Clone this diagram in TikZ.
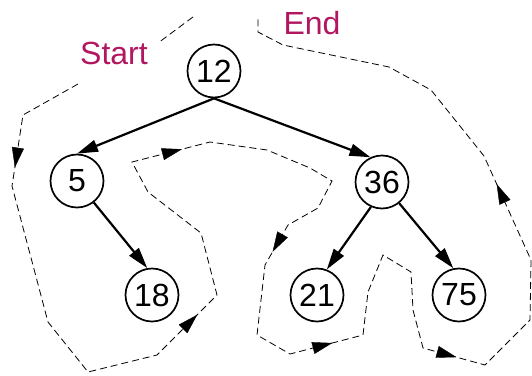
\documentclass[tikz,border=0pt]{standalone}
\usepackage{fontspec}
\setmainfont{Liberation Sans}
\usetikzlibrary{arrows.meta,decorations.markings}
\definecolor{lbl}{RGB}{178,22,96}
\tikzset{
  tnode/.style={circle,draw,line width=1.7pt,minimum size=53pt,inner sep=0pt,font=\fontsize{32}{36}\selectfont},
  tedge/.style={line width=2.2pt,-{Triangle[length=21pt,width=12pt]}},
  tour/.style={line width=0.8pt,dash pattern=on 7pt off 4pt},
  midarr/.style={postaction={decorate},decoration={markings,mark=at position #1 with {\arrow{Triangle[length=20pt,width=12pt]}}}},
  lbltext/.style={text=lbl,font=\fontsize{32}{36}\selectfont}
}
\begin{document}
\begin{tikzpicture}[x=1pt,y=-1pt]
\useasboundingbox (0,0) rectangle (532,375);
\node[tnode] (n12) at (214,71) {12};
\node[tnode] (n5) at (77,181) {5};
\node[tnode] (n36) at (382,182) {36};
\node[tnode] (n18) at (152,295) {18};
\node[tnode] (n21) at (317,295) {21};
\node[tnode] (n75) at (459,295) {75};
\node[lbltext] (start) at (114,53) {Start};
\node[lbltext] (end) at (312,23) {End};
\draw[tedge] (n12.south) -- (n5.north);
\draw[tedge] (n12.south) -- (n36.115);
\draw[tedge] (n5.-52) -- (n18.100);
\draw[tedge] (n36.-114) -- (n21.69);
\draw[tedge] (n36.-51) -- (n75.102);
\coordinate (s1) at (193,17);
\coordinate (s2) at (158,43);
\coordinate (p1) at (78,84);
\coordinate (p2) at (23,115);
\coordinate (p3) at (12,186);
\coordinate (p4) at (48,322);
\coordinate (p5) at (88,372);
\coordinate (p6) at (157,355);
\coordinate (p7) at (217,295);
\coordinate (p8) at (201,233);
\coordinate (p9) at (148,192);
\coordinate (p10) at (132,162);
\coordinate (p11) at (210,142);
\coordinate (p12) at (267,150);
\coordinate (p13) at (310,168);
\coordinate (p14) at (332,181);
\coordinate (p15) at (318,208);
\coordinate (p16) at (288,225);
\coordinate (p17) at (265,265);
\coordinate (p18) at (257,335);
\coordinate (p19) at (290,354);
\coordinate (p20) at (363,335);
\coordinate (p21) at (368,292);
\coordinate (p22) at (383,255);
\coordinate (p23) at (411,272);
\coordinate (p24) at (413,310);
\coordinate (p25) at (423,348);
\coordinate (p26) at (485,365);
\coordinate (p27) at (530,320);
\coordinate (p28) at (531,260);
\coordinate (p29) at (484,156);
\coordinate (p30) at (431,90);
\coordinate (p31) at (389,67);
\coordinate (p32) at (283,45);
\coordinate (p33) at (258,32);
\coordinate (p34) at (258,18);
\draw[tour] (s1) -- (s2);
\draw[tour] (p1) -- (p2) -- (p3) -- (p4) -- (p5) -- (p6) -- (p7) -- (p8) -- (p9) -- (p10) -- (p11) -- (p12) -- (p13) -- (p14) -- (p15) -- (p16) -- (p17) -- (p18) -- (p19) -- (p20) -- (p21) -- (p22) -- (p23) -- (p24) -- (p25) -- (p26) -- (p27) -- (p28) -- (p29) -- (p30) -- (p31) -- (p32) -- (p33) -- (p34);
\path[midarr=0.74] (p2) -- (p3);
\path[midarr=0.67] (p6) -- (p7);
\path[midarr=0.64] (p10) -- (p11);
\path[midarr=0.67] (p16) -- (p17);
\path[midarr=0.58] (p19) -- (p20);
\path[midarr=0.54] (p25) -- (p26);
\path[midarr=0.73] (p28) -- (p29);
\end{tikzpicture}
\end{document}
